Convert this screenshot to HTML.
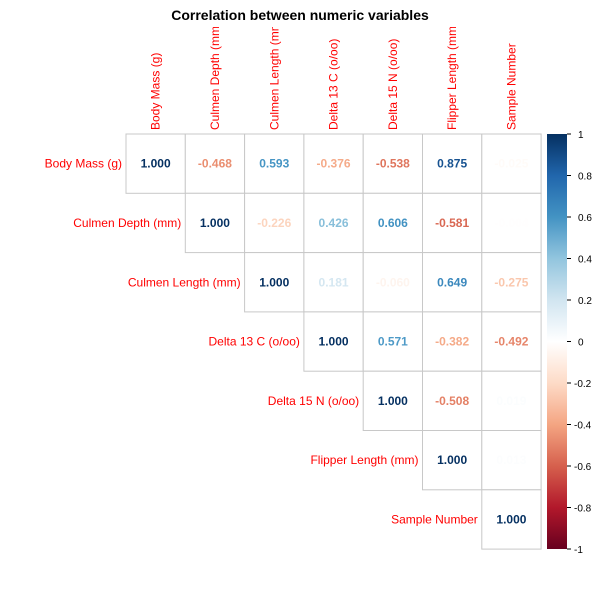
<!DOCTYPE html>
<html><head><meta charset="utf-8"><style>
body{margin:0;background:#fff;}
svg{display:block;font-family:"Liberation Sans",Arial,sans-serif;}
</style></head><body>
<svg id="chart" width="600" height="600">
<defs><clipPath id="colclip"><rect x="0" y="27" width="600" height="120"/></clipPath></defs>
<text x="300" y="20" text-anchor="middle" font-size="14" font-weight="bold">Correlation between numeric variables</text>
<g id="collabels" clip-path="url(#colclip)"></g>
<g id="cells"></g>
<g id="legend"></g>
</svg>
<script>
const vars = ["Body Mass (g)","Culmen Depth (mm)","Culmen Length (mm)","Delta 13 C (o/oo)","Delta 15 N (o/oo)","Flipper Length (mm)","Sample Number"];
const row0 = [1.000,-0.468,0.593,-0.376,-0.538,0.875,-0.025];
const row1 = [1.000,-0.226,0.426,0.606,-0.581,-0.004];
const row2 = [1.000,0.181,-0.060,0.649,-0.275];
const row3 = [1.000,0.571,-0.382,-0.492];
const row4 = [1.000,-0.508,0.019];
const row5 = [1.000,0.013];
const row6 = [1.000];
const legendTicks = [1,0.8,0.6,0.4,0.2,0,-0.2,-0.4,-0.6,-0.8,-1];
const rows = [row0,row1,row2,row3,row4,row5,row6];

const NS="http://www.w3.org/2000/svg";
const gridLeft=126, gridTop=134, cs=59.3;
const pal=["#67001F","#B2182B","#D6604D","#F4A582","#FDDBC7","#FFFFFF","#D1E5F0","#92C5DE","#4393C3","#2166AC","#053061"];
function hex(h){return [1,3,5].map(i=>parseInt(h.substr(i,2),16));}
function color(v){
  const t=(Math.max(-1,Math.min(1,v))+1)/2*10;
  const i=Math.min(9,Math.floor(t)), f=t-i;
  const a=hex(pal[i]), b=hex(pal[i+1]);
  return "rgb("+a.map((c,k)=>Math.round(c+(b[k]-c)*f)).join(",")+")";
}
function mk(tag,attrs,parent){const e=document.createElementNS(NS,tag);for(const k in attrs)e.setAttribute(k,attrs[k]);parent.appendChild(e);return e;}
const xPos=j=>gridLeft+j*cs, yPos=i=>gridTop+i*cs;
const cellG=document.getElementById("cells");
const chartSvg=document.getElementById("chart");
const colG=document.getElementById("collabels");
vars.forEach((v,j)=>{
  const cx=xPos(j)+cs/2;
  const t=mk("text",{x:0,y:0,transform:`translate(${cx+4},130) rotate(-90)`,"font-size":12,fill:"#ff0000"},colG);
  
  
  t.textContent=v;
});
rows.forEach((r,i)=>{
  const lab=mk("text",{x:xPos(i)-4,y:yPos(i)+cs/2+4,"text-anchor":"end","font-size":12,fill:"#ff0000"},chartSvg);
  
  
  lab.textContent=vars[i];
  r.forEach((val,k)=>{
    const j=i+k;
    const rc=mk("rect",{x:xPos(j),y:yPos(i),width:cs,height:cs,fill:"#fff",stroke:"#c8c8c8","stroke-width":1},cellG);
    
    
    const tx=mk("text",{x:xPos(j)+cs/2,y:yPos(i)+cs/2+4,"text-anchor":"middle","font-size":12,"font-weight":"bold",fill:color(val)},cellG);
    
    
    tx.textContent=val.toFixed(3);
  });
});
const lg=document.getElementById("legend");
const lx=547,lw=20,ly0=134,ly1=549;
const defs=mk("defs",{},chartSvg);
const grad=mk("linearGradient",{id:"gr",x1:0,y1:0,x2:0,y2:1},defs);
for(let s=0;s<=20;s++){const v=1-s/10;mk("stop",{offset:(s/20),"stop-color":color(v)},grad);}
const bar=mk("rect",{x:lx,y:ly0,width:lw,height:ly1-ly0,fill:"url(#gr)"},lg);


const lyPos=v=>ly0+(1-v)/2*(ly1-ly0);
legendTicks.forEach(v=>{
  const y=lyPos(v);
  mk("line",{x1:lx+lw,x2:lx+lw+4,y1:y,y2:y,stroke:"#000"},lg);
  const t=mk("text",{x:v<0?lx+lw+7:lx+lw+11,y:y+4,"font-size":10},lg);
  
  
  t.textContent=String(v);
});
</script>
</body></html>
